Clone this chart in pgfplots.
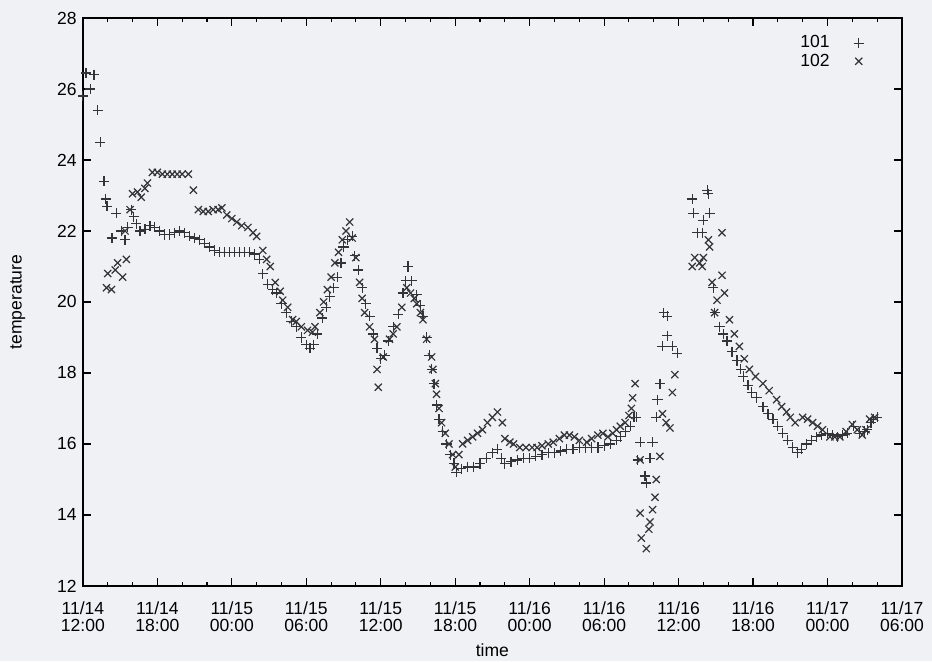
\documentclass[border=0pt]{standalone}
\usepackage{pgfplots}
\pgfplotsset{compat=1.18}
\usepackage{fontspec}
\setmainfont{Liberation Sans}
\definecolor{paper}{RGB}{239,241,244}
\definecolor{ink}{RGB}{52,52,56}

% hours after 11/14 12:00, temperature
\pgfplotstableread{
h T
0.0 25.8
0.25 26.45
0.6 26.0
0.9 26.4
1.2 25.4
1.4 24.5
1.7 23.4
1.85 22.9
1.95 22.7
2.35 21.8
2.7 22.5
3.1 22.0
3.4 21.75
3.6 22.1
3.9 22.6
4.1 22.4
4.3 22.2
4.6 22.0
5.0 22.05
5.4 22.15
5.8 22.1
6.2 22.0
6.6 21.9
7.0 21.9
7.4 21.95
7.8 22.0
8.2 21.95
8.6 21.85
9.0 21.8
9.4 21.75
9.8 21.65
10.2 21.55
10.6 21.45
11.0 21.4
11.4 21.4
11.8 21.4
12.2 21.4
12.6 21.4
13.0 21.4
13.4 21.4
13.8 21.35
14.2 21.2
14.5 20.8
14.9 20.5
15.3 20.35
15.6 20.25
16.0 19.95
16.4 19.7
16.8 19.45
17.2 19.3
17.6 19.0
18.0 18.8
18.3 18.7
18.6 18.8
18.9 19.1
19.3 19.55
19.6 19.85
19.9 20.15
20.2 20.4
20.5 20.7
20.8 21.1
21.0 21.55
21.3 21.75
21.7 21.85
21.9 21.3
22.2 20.9
22.5 20.4
22.8 19.95
23.1 19.6
23.4 19.1
23.7 18.7
24.0 18.4
24.3 18.5
24.6 18.9
25.0 19.3
25.4 19.65
25.8 20.25
26.0 20.6
26.2 21.0
26.5 20.6
26.9 20.2
27.2 19.9
27.4 19.6
27.7 19.0
27.9 18.5
28.1 18.1
28.3 17.7
28.5 17.1
28.7 16.7
29.0 16.35
29.3 16.0
29.6 15.7
29.9 15.45
30.1 15.2
30.5 15.3
31.0 15.35
31.5 15.35
32.0 15.45
32.5 15.6
33.0 15.75
33.4 15.85
33.7 15.6
34.0 15.45
34.5 15.5
35.0 15.55
35.5 15.6
36.0 15.6
36.5 15.65
37.0 15.7
37.5 15.75
38.0 15.75
38.5 15.8
39.0 15.85
39.5 15.85
40.0 15.9
40.5 15.9
41.0 15.9
41.5 15.9
42.0 15.95
42.5 16.0
43.0 16.1
43.3 16.2
43.7 16.35
44.1 16.5
44.4 16.75
44.6 16.75
44.7 15.55
44.9 16.05
45.3 15.1
45.4 14.9
45.7 15.6
45.9 16.05
46.2 16.75
46.3 17.25
46.5 17.7
46.7 18.75
46.8 19.7
47.1 19.6
47.1 19.05
47.5 18.75
47.9 18.55
49.1 22.9
49.2 22.5
49.5 21.95
49.9 21.95
50.0 22.3
50.3 23.15
50.4 23.05
50.5 22.5
50.8 20.4
50.9 19.7
51.3 19.3
51.6 19.1
51.9 18.9
52.3 18.6
52.7 18.35
53.0 18.1
53.2 17.9
53.6 17.65
53.9 17.45
54.3 17.3
54.8 17.05
55.2 16.85
55.6 16.7
56.0 16.5
56.4 16.3
56.8 16.1
57.2 15.9
57.6 15.75
57.9 15.85
58.3 16.0
58.7 16.1
59.1 16.2
59.5 16.25
60.0 16.3
60.4 16.25
60.8 16.2
61.2 16.25
61.6 16.3
62.1 16.5
62.6 16.3
63.0 16.35
63.2 16.4
63.5 16.6
63.7 16.7
64.0 16.75
}\roomA

\pgfplotstableread{
h T
1.9 20.4
2.0 20.8
2.3 20.35
2.6 20.9
2.8 21.1
3.2 20.7
3.4 22.0
3.5 21.2
3.8 22.6
4.0 23.05
4.4 23.1
4.7 22.95
5.0 23.2
5.2 23.35
5.6 23.65
6.0 23.65
6.4 23.6
6.8 23.6
7.2 23.6
7.6 23.6
8.0 23.6
8.5 23.6
8.9 23.15
9.3 22.6
9.7 22.55
10.1 22.55
10.5 22.6
10.9 22.6
11.2 22.65
11.6 22.45
12.0 22.35
12.4 22.25
12.8 22.15
13.3 22.1
13.7 21.95
14.0 21.85
14.5 21.45
14.8 21.2
15.1 21.0
15.5 20.55
15.9 20.3
16.1 20.05
16.5 19.85
16.9 19.5
17.2 19.45
17.6 19.3
18.1 19.2
18.5 19.15
18.7 19.3
19.1 19.7
19.4 20.0
19.7 20.35
20.0 20.7
20.3 21.1
20.6 21.4
20.9 21.75
21.2 22.0
21.5 22.25
21.7 21.8
22.0 21.25
22.3 20.55
22.5 20.1
22.7 19.7
23.1 19.3
23.5 18.95
23.7 18.1
23.8 17.6
24.2 18.45
24.7 18.95
25.0 19.1
25.3 19.3
25.7 19.85
26.1 20.4
26.4 20.25
26.7 20.1
26.9 19.95
27.2 19.7
27.4 19.5
27.7 18.95
28.1 18.45
28.2 18.1
28.4 17.7
28.5 17.4
28.7 17.0
28.9 16.6
29.2 16.3
29.5 16.0
29.8 15.7
30.0 15.35
30.3 15.7
30.6 16.0
31.0 16.1
31.4 16.2
31.8 16.3
32.2 16.4
32.6 16.6
33.0 16.75
33.4 16.9
33.8 16.6
34.0 16.15
34.4 16.05
34.7 16.0
35.2 15.9
35.7 15.9
36.2 15.9
36.6 15.9
37.0 15.95
37.5 16.0
37.9 16.05
38.4 16.15
38.8 16.25
39.2 16.25
39.6 16.2
40.0 16.1
40.6 16.05
41.0 16.15
41.5 16.25
41.9 16.3
42.3 16.2
42.7 16.3
43.0 16.4
43.3 16.5
43.7 16.6
44.0 16.8
44.2 17.0
44.3 17.3
44.5 17.7
44.9 15.55
44.9 14.05
45.0 13.35
45.4 13.05
45.6 13.6
45.7 13.8
45.9 14.15
46.1 14.5
46.2 15.0
46.5 15.65
46.7 16.85
47.0 16.6
47.3 16.45
47.5 17.45
47.7 17.95
49.1 21.0
49.3 21.25
49.7 21.1
49.9 21.0
50.0 21.25
50.4 21.75
50.5 21.55
50.7 20.55
50.9 19.7
51.1 20.05
51.5 21.95
51.5 20.75
51.7 20.25
52.1 19.5
52.5 19.1
52.9 18.75
53.3 18.4
53.7 18.1
54.2 17.9
54.8 17.7
55.3 17.5
55.9 17.25
56.3 17.05
56.7 16.9
57.0 16.75
57.4 16.6
58.0 16.75
58.4 16.7
58.8 16.6
59.2 16.5
59.6 16.4
60.2 16.2
60.6 16.2
61.0 16.2
61.5 16.35
62.0 16.55
62.4 16.4
62.8 16.25
63.1 16.4
63.4 16.7
63.8 16.75
}\roomB

\begin{document}
\fontsize{8}{9}\selectfont
\begin{tikzpicture}
\fill[paper] (-37.8pt,-34.2pt) rectangle (387.2pt,267.2pt);
\begin{axis}[
  at={(0,0)}, anchor=south west, scale only axis,
  width=373.5pt, height=259pt,
  xmin=0, xmax=66, ymin=12, ymax=28,
  xtick={0,6,...,66},
  xticklabels={{11/14\\12:00},{11/14\\18:00},{11/15\\00:00},{11/15\\06:00},
    {11/15\\12:00},{11/15\\18:00},{11/16\\00:00},{11/16\\06:00},
    {11/16\\12:00},{11/16\\18:00},{11/17\\00:00},{11/17\\06:00}},
  xticklabel style={align=center, font=\fontsize{8}{7.8}\selectfont, yshift=-4.5pt},
  minor x tick num=2,
  ytick={12,14,...,28},
  yticklabel style={font=\fontsize{8}{9}\selectfont},
  /pgf/number format/assume math mode=true,
  tick align=inside,
  major tick length=3.6pt, minor tick length=1.8pt,
  every tick/.style={black, line width=0.5pt},
  axis line style={black, line width=0.7pt},
  xlabel={time}, ylabel={temperature},
  label style={font=\fontsize{8}{9}\selectfont},
  xlabel style={at={(axis description cs:0.5,-0.113)}, anchor=center},
  ylabel style={at={(axis description cs:-0.0794,0.5)}, anchor=center},
  legend style={draw=none, fill=none, at={(rel axis cs:0.962,0.985)}, anchor=north east,
    font=\fontsize{8}{9}\selectfont, row sep=-2.5pt, column sep=9pt, legend cell align=right},
  legend plot pos=right,
  clip=false,
]
\addplot[only marks, mark=+, mark size=2.3pt, ink, line width=0.55pt] table[x=h, y=T] {\roomA};
\addlegendentry{101}
\addplot[only marks, mark=x, mark size=2.3pt, ink, line width=0.55pt] table[x=h, y=T] {\roomB};
\addlegendentry{102}
\end{axis}
\end{tikzpicture}
\end{document}
